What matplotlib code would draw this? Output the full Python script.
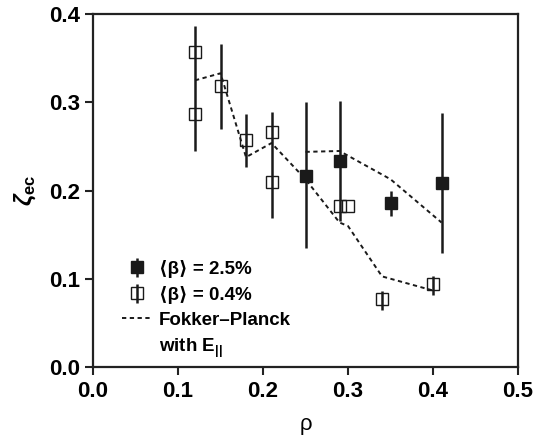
import numpy as np
import matplotlib
matplotlib.use("Agg")
from matplotlib import pyplot as plt
from matplotlib.lines import Line2D

plt.rcParams['font.family'] = ['Liberation Sans', 'DejaVu Sans']
plt.rcParams['font.weight'] = 'bold'
plt.rcParams['mathtext.fontset'] = 'custom'
plt.rcParams['mathtext.rm'] = 'Liberation Sans'
plt.rcParams['mathtext.bf'] = 'Liberation Sans:bold'
plt.rcParams['mathtext.it'] = 'Liberation Sans:italic'

# <beta> = 2.5 % shots
hi_rho = [0.25, 0.29, 0.35, 0.41]
hi_zeta = [0.217, 0.234, 0.186, 0.209]
hi_lo = [0.135, 0.166, 0.171, 0.130]
hi_hi = [0.300, 0.302, 0.200, 0.288]

# <beta> = 0.4 % shots (nan = no error bar drawn)
lo_rho = [0.12, 0.12, 0.15, 0.18, 0.21, 0.21, 0.29, 0.30, 0.34, 0.40]
lo_zeta = [0.357, 0.287, 0.319, 0.257, 0.266, 0.210, 0.183, 0.183, 0.077, 0.094]
lo_lo = [0.245, np.nan, 0.270, 0.227, 0.169, np.nan, np.nan, np.nan, 0.065, 0.082]
lo_hi = [0.386, np.nan, 0.366, 0.287, 0.289, np.nan, np.nan, np.nan, 0.086, 0.103]

# Fokker-Planck calculations
fp_lo_rho = [0.12, 0.15, 0.18, 0.21, 0.25, 0.29, 0.30, 0.34, 0.40]
fp_lo_zeta = [0.325, 0.333, 0.238, 0.254, 0.213, 0.164, 0.160, 0.103, 0.087]
fp_hi_rho = [0.25, 0.29, 0.35, 0.41]
fp_hi_zeta = [0.244, 0.245, 0.213, 0.164]

fig = plt.figure(figsize=(5.36, 4.41), dpi=100)
ax = fig.add_axes([0.1735, 0.167, 0.793, 0.801])

dash = (0, (2.2, 1.8))
fp_line, = ax.plot(fp_lo_rho, fp_lo_zeta, color='#1a1a1a', lw=1.4, linestyle=dash)
ax.plot(fp_hi_rho, fp_hi_zeta, color='#1a1a1a', lw=1.4, linestyle=dash)

lo_zeta_a = np.array(lo_zeta)
lo_err = [lo_zeta_a - np.array(lo_lo), np.array(lo_hi) - lo_zeta_a]
lo_err = [np.nan_to_num(e) for e in lo_err]
open_pts = ax.errorbar(lo_rho, lo_zeta, yerr=lo_err, fmt='s', ms=8.5, mfc='none',
                       mec='#1a1a1a', mew=1.0, ecolor='#1a1a1a', elinewidth=1.8,
                       capsize=0, zorder=3)

hi_zeta_a = np.array(hi_zeta)
hi_err = [hi_zeta_a - np.array(hi_lo), np.array(hi_hi) - hi_zeta_a]
filled_pts = ax.errorbar(hi_rho, hi_zeta, yerr=hi_err, fmt='s', ms=9, mfc='#1a1a1a',
                         mec='#1a1a1a', ecolor='#1a1a1a', elinewidth=1.8,
                         capsize=0, zorder=4)

ax.set_xlim(0, 0.5)
ax.set_ylim(0, 0.4)
ax.set_xticks([0.0, 0.1, 0.2, 0.3, 0.4, 0.5])
ax.set_yticks([0.0, 0.1, 0.2, 0.3, 0.4])
ax.xaxis.set_major_formatter(matplotlib.ticker.FormatStrFormatter('%.1f'))
ax.yaxis.set_major_formatter(matplotlib.ticker.FormatStrFormatter('%.1f'))
ax.tick_params(direction='out', length=6, width=1.5, labelsize=16, color='#222222')
for s in ax.spines.values():
    s.set_linewidth(1.6)
    s.set_color('#222222')

ax.set_xlabel('ρ', fontsize=16, fontweight='normal', labelpad=9)
ax.set_ylabel(r'$\zeta_{\mathbf{ec}}$', fontsize=17, labelpad=8)

# second line of the model label gets an empty handle so the dashes sit on line one
blank = Line2D([], [], color='none')
ax.legend([filled_pts, open_pts, fp_line, blank],
          ['⟨β⟩ = 2.5%', '⟨β⟩ = 0.4%', 'Fokker–Planck', 'with E$_{\\mathbf{||}}$'],
          loc='lower left', bbox_to_anchor=(0.05, 0.0), frameon=False,
          fontsize=13.5, handlelength=1.6, handletextpad=0.4, labelspacing=0.42,
          borderaxespad=0)

fig.savefig('out.png', dpi=100)
